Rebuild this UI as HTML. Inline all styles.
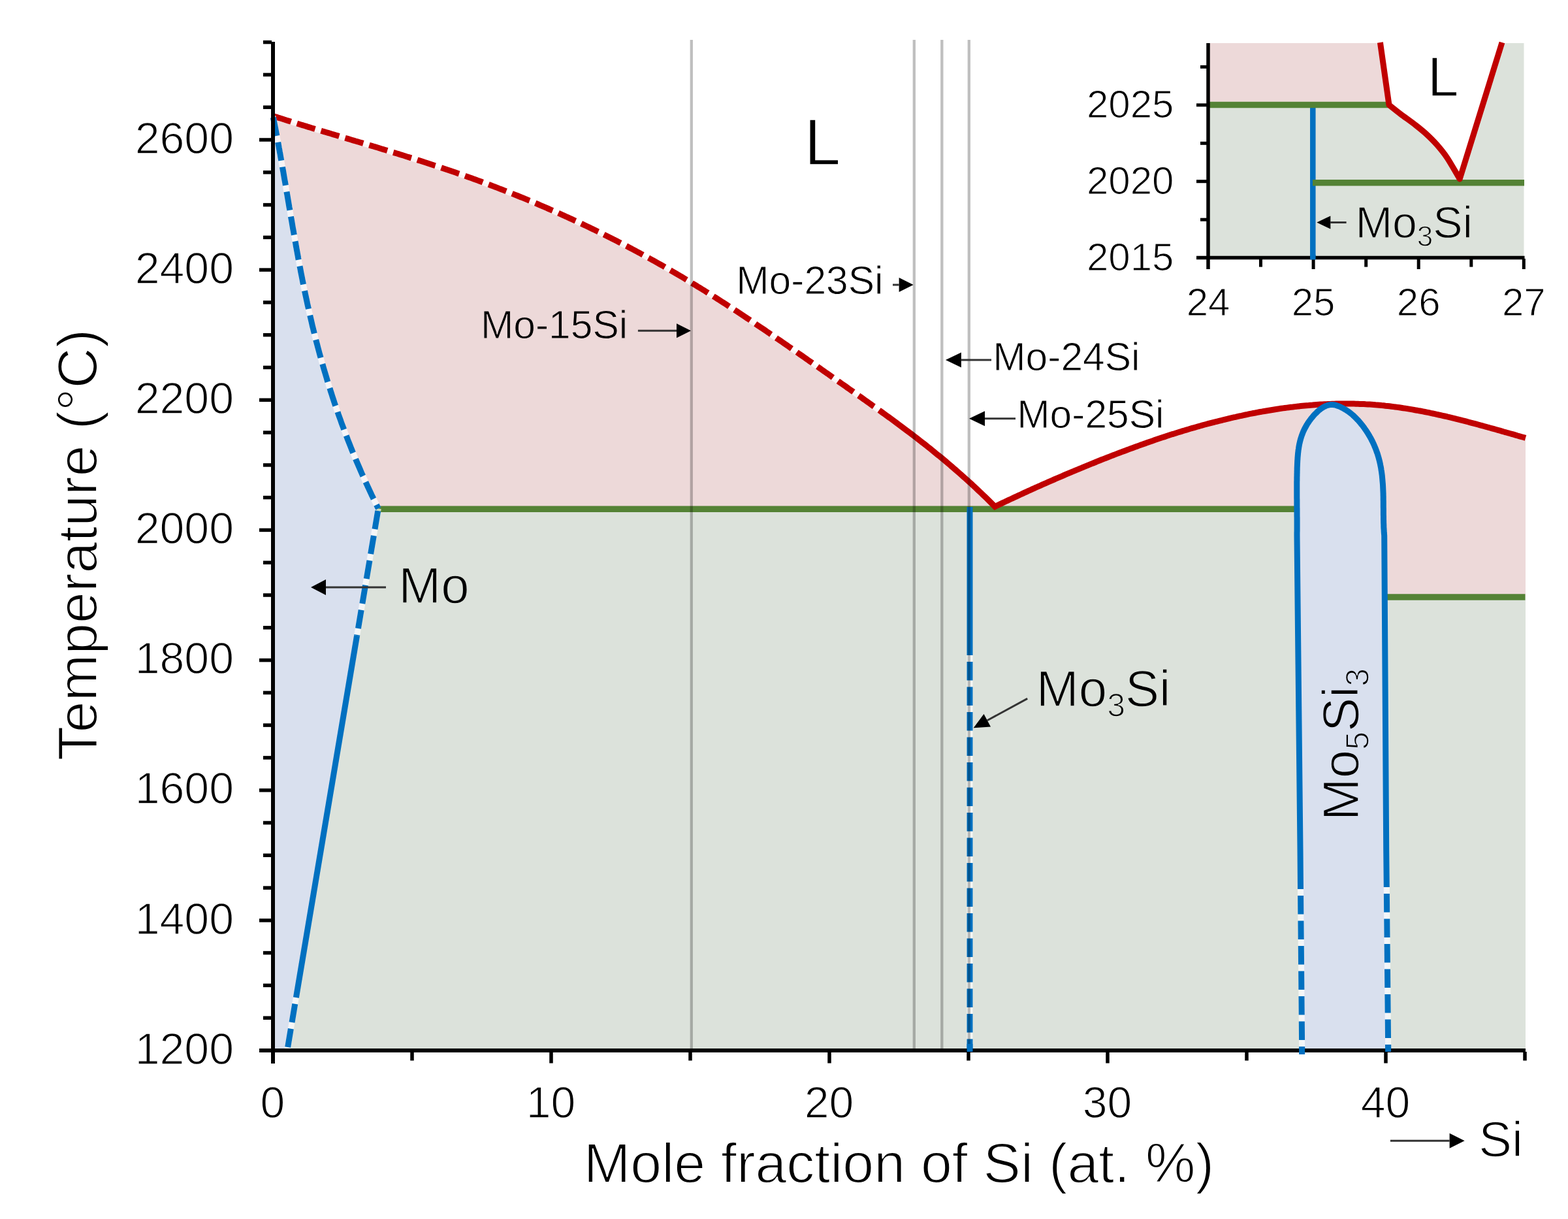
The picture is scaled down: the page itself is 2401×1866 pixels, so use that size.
<!DOCTYPE html>
<html><head><meta charset="utf-8"><title>Mo-Si phase diagram</title>
<style>html,body{margin:0;padding:0;background:#fff;overflow:hidden}svg{display:block}</style>
</head><body>
<svg xmlns="http://www.w3.org/2000/svg" width="2401" height="1866" viewBox="0 0 2401 1866">
<rect width="2401" height="1866" fill="#fff"/>
<path d="M418 177.5 L421 178.5 L424 179.4 L427 180.4 L430 181.3 L433.1 182.3 L436.1 183.2 L439.1 184.2 L442.1 185.1 L445.1 186 L448.1 187 L451.1 187.9 L454.1 188.8 L457.2 189.8 L460.2 190.7 L463.2 191.6 L466.2 192.5 L469.2 193.4 L472.2 194.4 L475.2 195.3 L478.2 196.2 L481.3 197.1 L484.3 198 L487.3 198.9 L490.3 199.8 L493.3 200.7 L496.3 201.6 L499.3 202.5 L502.3 203.4 L505.4 204.3 L508.4 205.2 L511.4 206.1 L514.4 207 L517.4 207.9 L520.4 208.8 L523.4 209.7 L526.4 210.6 L529.5 211.5 L532.5 212.4 L535.5 213.3 L538.5 214.2 L541.5 215.1 L544.5 216 L547.5 216.8 L550.5 217.7 L553.6 218.6 L556.6 219.5 L559.6 220.4 L562.6 221.3 L565.6 222.2 L568.6 223.1 L571.6 224 L574.6 224.9 L577.6 225.8 L580.7 226.8 L583.7 227.7 L586.7 228.6 L589.7 229.5 L592.7 230.4 L595.7 231.3 L598.7 232.2 L601.7 233.2 L604.8 234.1 L607.8 235 L610.8 235.9 L613.8 236.9 L616.8 237.8 L619.8 238.7 L622.8 239.7 L625.8 240.6 L628.9 241.6 L631.9 242.5 L634.9 243.4 L637.9 244.4 L640.9 245.4 L643.9 246.3 L646.9 247.3 L649.9 248.3 L653 249.2 L656 250.2 L659 251.2 L662 252.2 L665 253.2 L668 254.1 L671 255.1 L674 256.1 L677.1 257.2 L680.1 258.2 L683.1 259.2 L686.1 260.2 L689.1 261.2 L692.1 262.3 L695.1 263.3 L698.1 264.3 L701.2 265.4 L704.2 266.4 L707.2 267.5 L710.2 268.5 L713.2 269.6 L716.2 270.7 L719.2 271.8 L722.2 272.8 L725.3 273.9 L728.3 275 L731.3 276.1 L734.3 277.2 L737.3 278.3 L740.3 279.5 L743.3 280.6 L746.3 281.7 L749.3 282.8 L752.4 284 L755.4 285.1 L758.4 286.3 L761.4 287.4 L764.4 288.6 L767.4 289.7 L770.4 290.9 L773.4 292.1 L776.5 293.3 L779.5 294.5 L782.5 295.7 L785.5 296.9 L788.5 298.1 L791.5 299.3 L794.5 300.5 L797.5 301.7 L800.6 302.9 L803.6 304.2 L806.6 305.4 L809.6 306.7 L812.6 307.9 L815.6 309.2 L818.6 310.4 L821.6 311.7 L824.7 313 L827.7 314.3 L830.7 315.6 L833.7 316.9 L836.7 318.2 L839.7 319.5 L842.7 320.8 L845.7 322.1 L848.8 323.4 L851.8 324.8 L854.8 326.1 L857.8 327.5 L860.8 328.8 L863.8 330.2 L866.8 331.5 L869.8 332.9 L872.9 334.3 L875.9 335.7 L878.9 337.1 L881.9 338.4 L884.9 339.9 L887.9 341.3 L890.9 342.7 L893.9 344.1 L896.9 345.5 L900 347 L903 348.4 L906 349.9 L909 351.3 L912 352.8 L915 354.3 L918 355.7 L921 357.2 L924.1 358.7 L927.1 360.2 L930.1 361.7 L933.1 363.2 L936.1 364.7 L939.1 366.3 L942.1 367.8 L945.1 369.3 L948.2 370.9 L951.2 372.4 L954.2 374 L957.2 375.6 L960.2 377.1 L963.2 378.7 L966.2 380.3 L969.2 381.9 L972.3 383.5 L975.3 385.1 L978.3 386.7 L981.3 388.4 L984.3 390 L987.3 391.6 L990.3 393.3 L993.3 394.9 L996.4 396.6 L999.4 398.3 L1002.4 399.9 L1005.4 401.6 L1008.4 403.3 L1011.4 405 L1014.4 406.7 L1017.4 408.4 L1020.5 410.2 L1023.5 411.9 L1026.5 413.6 L1029.5 415.4 L1032.5 417.1 L1035.5 418.9 L1038.5 420.7 L1041.5 422.4 L1044.6 424.2 L1047.6 426 L1050.6 427.8 L1053.6 429.6 L1056.6 431.4 L1059.6 433.3 L1062.6 435.1 L1065.6 436.9 L1068.6 438.8 L1071.7 440.6 L1074.7 442.5 L1077.7 444.3 L1080.7 446.2 L1083.7 448.1 L1086.7 450 L1089.7 451.9 L1092.7 453.8 L1095.8 455.7 L1098.8 457.6 L1101.8 459.5 L1104.8 461.5 L1107.8 463.4 L1110.8 465.3 L1113.8 467.3 L1116.8 469.3 L1119.9 471.2 L1122.9 473.2 L1125.9 475.1 L1128.9 477.1 L1131.9 479.1 L1134.9 481.1 L1137.9 483.1 L1140.9 485.1 L1144 487.1 L1147 489.1 L1150 491.1 L1153 493.1 L1156 495.1 L1159 497.2 L1162 499.2 L1165 501.2 L1168.1 503.3 L1171.1 505.3 L1174.1 507.4 L1177.1 509.4 L1180.1 511.5 L1183.1 513.5 L1186.1 515.6 L1189.1 517.7 L1192.2 519.7 L1195.2 521.8 L1198.2 523.9 L1201.2 526 L1204.2 528 L1207.2 530.1 L1210.2 532.2 L1213.2 534.3 L1216.2 536.4 L1219.3 538.5 L1222.3 540.6 L1225.3 542.7 L1228.3 544.8 L1231.3 546.9 L1234.3 549 L1237.3 551.1 L1240.3 553.2 L1243.4 555.3 L1246.4 557.4 L1249.4 559.5 L1252.4 561.7 L1255.4 563.8 L1258.4 565.9 L1261.4 568 L1264.4 570.1 L1267.5 572.2 L1270.5 574.4 L1273.5 576.5 L1276.5 578.6 L1279.5 580.7 L1282.5 582.8 L1285.5 585 L1288.5 587.1 L1291.6 589.2 L1294.6 591.3 L1297.6 593.5 L1300.6 595.6 L1303.6 597.7 L1306.6 599.8 L1309.6 601.9 L1312.6 604.1 L1315.7 606.2 L1318.7 608.3 L1321.7 610.5 L1324.7 612.6 L1327.7 614.7 L1330.7 616.9 L1333.7 619 L1336.7 621.2 L1339.8 623.3 L1342.8 625.5 L1345.8 627.6 L1348.8 629.8 L1351.8 632 L1354.8 634.1 L1357.8 636.3 L1360.8 638.5 L1363.9 640.7 L1366.9 642.9 L1369.9 645.1 L1372.9 647.4 L1375.9 649.6 L1378.9 651.8 L1381.9 654.1 L1384.9 656.3 L1387.9 658.6 L1391 660.9 L1394 663.1 L1397 665.4 L1400 667.7 L1403 670.1 L1406 672.4 L1409 674.7 L1412 677.1 L1415.1 679.4 L1418.1 681.8 L1421.1 684.2 L1424.1 686.6 L1427.1 689 L1430.1 691.5 L1433.1 693.9 L1436.1 696.4 L1439.2 698.8 L1442.2 701.3 L1445.2 703.8 L1448.2 706.3 L1451.2 708.9 L1454.2 711.4 L1457.2 714 L1460.2 716.6 L1463.3 719.2 L1466.3 721.8 L1469.3 724.5 L1472.3 727.1 L1475.3 729.8 L1478.3 732.5 L1481.3 735.2 L1484.3 738 L1487.4 740.7 L1490.4 743.5 L1493.4 746.3 L1496.4 749.1 L1499.4 752 L1502.4 754.8 L1505.4 757.7 L1508.4 760.6 L1511.5 763.5 L1514.5 766.5 L1517.5 769.5 L1520.5 772.5 L1523.5 775.5 L1526.5 774 L1529.5 772.6 L1532.6 771.1 L1535.6 769.7 L1538.6 768.3 L1541.6 766.8 L1544.6 765.4 L1547.7 764 L1550.7 762.6 L1553.7 761.2 L1556.7 759.8 L1559.7 758.4 L1562.8 757 L1565.8 755.6 L1568.8 754.2 L1571.8 752.8 L1574.8 751.4 L1577.9 750.1 L1580.9 748.7 L1583.9 747.3 L1586.9 746 L1589.9 744.6 L1593 743.3 L1596 741.9 L1599 740.6 L1602 739.3 L1605.1 737.9 L1608.1 736.6 L1611.1 735.3 L1614.1 734 L1617.1 732.7 L1620.2 731.4 L1623.2 730.1 L1626.2 728.8 L1629.2 727.5 L1632.2 726.2 L1635.3 724.9 L1638.3 723.6 L1641.3 722.3 L1644.3 721.1 L1647.3 719.8 L1650.4 718.6 L1653.4 717.3 L1656.4 716.1 L1659.4 714.8 L1662.4 713.6 L1665.5 712.3 L1668.5 711.1 L1671.5 709.9 L1674.5 708.7 L1677.5 707.5 L1680.6 706.2 L1683.6 705 L1686.6 703.8 L1689.6 702.6 L1692.6 701.5 L1695.7 700.3 L1698.7 699.1 L1701.7 697.9 L1704.7 696.7 L1707.7 695.6 L1710.8 694.4 L1713.8 693.3 L1716.8 692.1 L1719.8 691 L1722.8 689.9 L1725.9 688.7 L1728.9 687.6 L1731.9 686.5 L1734.9 685.4 L1738 684.3 L1741 683.2 L1744 682.1 L1747 681 L1750 679.9 L1753.1 678.9 L1756.1 677.8 L1759.1 676.7 L1762.1 675.7 L1765.1 674.7 L1768.2 673.6 L1771.2 672.6 L1774.2 671.6 L1777.2 670.6 L1780.2 669.6 L1783.3 668.6 L1786.3 667.6 L1789.3 666.6 L1792.3 665.6 L1795.3 664.6 L1798.4 663.7 L1801.4 662.7 L1804.4 661.8 L1807.4 660.9 L1810.4 659.9 L1813.5 659 L1816.5 658.1 L1819.5 657.2 L1822.5 656.3 L1825.5 655.4 L1828.6 654.6 L1831.6 653.7 L1834.6 652.8 L1837.6 652 L1840.6 651.2 L1843.7 650.3 L1846.7 649.5 L1849.7 648.7 L1852.7 647.9 L1855.7 647.1 L1858.8 646.3 L1861.8 645.5 L1864.8 644.8 L1867.8 644 L1870.9 643.3 L1873.9 642.5 L1876.9 641.8 L1879.9 641.1 L1882.9 640.3 L1886 639.6 L1889 638.9 L1892 638.3 L1895 637.6 L1898 636.9 L1901.1 636.3 L1904.1 635.6 L1907.1 635 L1910.1 634.4 L1913.1 633.7 L1916.2 633.1 L1919.2 632.5 L1922.2 632 L1925.2 631.4 L1928.2 630.8 L1931.3 630.3 L1934.3 629.7 L1937.3 629.2 L1940.3 628.7 L1943.3 628.2 L1946.4 627.7 L1949.4 627.2 L1952.4 626.7 L1955.4 626.2 L1958.4 625.8 L1961.5 625.3 L1964.5 624.9 L1967.5 624.5 L1970.5 624.1 L1973.5 623.7 L1976.6 623.3 L1979.6 623 L1982.6 622.6 L1985.6 622.3 L1988.6 621.9 L1991.7 621.6 L1994.7 621.3 L1997.7 621 L2000.7 620.7 L2003.8 620.5 L2006.8 620.2 L2009.8 620 L2012.8 619.7 L2015.8 619.5 L2018.9 619.3 L2021.9 619.1 L2024.9 619 L2027.9 618.8 L2030.9 618.7 L2034 618.5 L2037 618.4 L2040 618.3 L2043 618.2 L2046 618.1 L2049.1 618.1 L2052.1 618 L2055.1 618 L2058.1 618 L2061.1 618 L2064.2 618 L2067.2 618 L2070.2 618.1 L2073.2 618.1 L2076.2 618.2 L2079.3 618.3 L2082.3 618.4 L2085.3 618.5 L2088.3 618.6 L2091.3 618.8 L2094.4 618.9 L2097.4 619.1 L2100.4 619.3 L2103.4 619.5 L2106.4 619.8 L2109.5 620 L2112.5 620.3 L2115.5 620.6 L2118.5 620.8 L2121.5 621.2 L2124.6 621.5 L2127.6 621.8 L2130.6 622.2 L2133.6 622.6 L2136.7 623 L2139.7 623.4 L2142.7 623.8 L2145.7 624.2 L2148.7 624.7 L2151.8 625.1 L2154.8 625.6 L2157.8 626.1 L2160.8 626.6 L2163.8 627.1 L2166.9 627.7 L2169.9 628.2 L2172.9 628.8 L2175.9 629.3 L2178.9 629.9 L2182 630.5 L2185 631.1 L2188 631.7 L2191 632.4 L2194 633 L2197.1 633.6 L2200.1 634.3 L2203.1 635 L2206.1 635.6 L2209.1 636.3 L2212.2 637 L2215.2 637.7 L2218.2 638.5 L2221.2 639.2 L2224.2 639.9 L2227.3 640.6 L2230.3 641.4 L2233.3 642.1 L2236.3 642.9 L2239.3 643.7 L2242.4 644.4 L2245.4 645.2 L2248.4 646 L2251.4 646.8 L2254.4 647.6 L2257.5 648.4 L2260.5 649.2 L2263.5 650 L2266.5 650.9 L2269.6 651.7 L2272.6 652.5 L2275.6 653.3 L2278.6 654.2 L2281.6 655 L2284.7 655.9 L2287.7 656.7 L2290.7 657.5 L2293.7 658.4 L2296.7 659.2 L2299.8 660.1 L2302.8 661 L2305.8 661.8 L2308.8 662.7 L2311.8 663.5 L2314.9 664.4 L2317.9 665.2 L2320.9 666.1 L2323.9 667 L2326.9 667.8 L2330 668.7 L2333 669.5 L2336 670.4 L2336 1608 L418 1608 Z" fill="#EDD9D9"/>
<path d="M418 779 L2060 779 L2060 914 L2336 914 L2336 1608 L418 1608 Z" fill="#DCE2DB"/>
<path d="M418 178 L418.6 181 L419.2 184 L419.8 187.1 L420.4 190.1 L421 193.1 L421.6 196.1 L422.2 199.1 L422.8 202.1 L423.3 205.2 L423.9 208.2 L424.5 211.2 L425 214.2 L425.6 217.2 L426.1 220.2 L426.7 223.3 L427.2 226.3 L427.8 229.3 L428.3 232.3 L428.9 235.3 L429.4 238.4 L429.9 241.4 L430.5 244.4 L431 247.4 L431.5 250.4 L432.1 253.4 L432.6 256.5 L433.1 259.5 L433.7 262.5 L434.2 265.5 L434.7 268.5 L435.2 271.5 L435.7 274.6 L436.3 277.6 L436.8 280.6 L437.3 283.6 L437.8 286.6 L438.3 289.7 L438.8 292.7 L439.3 295.7 L439.9 298.7 L440.4 301.7 L440.9 304.7 L441.4 307.8 L441.9 310.8 L442.4 313.8 L442.9 316.8 L443.5 319.8 L444 322.8 L444.5 325.9 L445 328.9 L445.5 331.9 L446 334.9 L446.6 337.9 L447.1 340.9 L447.6 344 L448.1 347 L448.6 350 L449.2 353 L449.7 356 L450.2 359.1 L450.8 362.1 L451.3 365.1 L451.8 368.1 L452.4 371.1 L452.9 374.1 L453.4 377.2 L454 380.2 L454.5 383.2 L455.1 386.2 L455.6 389.2 L456.2 392.2 L456.7 395.3 L457.3 398.3 L457.9 401.3 L458.4 404.3 L459 407.3 L459.6 410.4 L460.2 413.4 L460.7 416.4 L461.3 419.4 L461.9 422.4 L462.5 425.4 L463.1 428.5 L463.7 431.5 L464.3 434.5 L464.9 437.5 L465.5 440.5 L466.2 443.5 L466.8 446.6 L467.4 449.6 L468 452.6 L468.7 455.6 L469.3 458.6 L470 461.7 L470.6 464.7 L471.3 467.7 L472 470.7 L472.6 473.7 L473.3 476.7 L474 479.8 L474.7 482.8 L475.4 485.8 L476.1 488.8 L476.8 491.8 L477.5 494.8 L478.2 497.9 L478.9 500.9 L479.7 503.9 L480.4 506.9 L481.2 509.9 L481.9 513 L482.7 516 L483.4 519 L484.2 522 L485 525 L485.8 528 L486.6 531.1 L487.4 534.1 L488.2 537.1 L489 540.1 L489.8 543.1 L490.7 546.1 L491.5 549.2 L492.3 552.2 L493.2 555.2 L494.1 558.2 L494.9 561.2 L495.8 564.3 L496.7 567.3 L497.6 570.3 L498.5 573.3 L499.4 576.3 L500.3 579.3 L501.2 582.4 L502.1 585.4 L503.1 588.4 L504 591.4 L505 594.4 L505.9 597.4 L506.9 600.5 L507.9 603.5 L508.8 606.5 L509.8 609.5 L510.8 612.5 L511.8 615.6 L512.8 618.6 L513.9 621.6 L514.9 624.6 L515.9 627.6 L517 630.6 L518 633.7 L519.1 636.7 L520.2 639.7 L521.3 642.7 L522.3 645.7 L523.4 648.7 L524.6 651.8 L525.7 654.8 L526.8 657.8 L527.9 660.8 L529.1 663.8 L530.2 666.8 L531.4 669.9 L532.5 672.9 L533.7 675.9 L534.9 678.9 L536.1 681.9 L537.3 685 L538.5 688 L539.7 691 L541 694 L542.2 697 L543.5 700 L544.7 703.1 L546 706.1 L547.3 709.1 L548.6 712.1 L549.9 715.1 L551.2 718.1 L552.5 721.2 L553.8 724.2 L555.1 727.2 L556.5 730.2 L557.8 733.2 L559.2 736.3 L560.6 739.3 L562 742.3 L563.3 745.3 L564.8 748.3 L566.2 751.3 L567.6 754.4 L569 757.4 L570.5 760.4 L571.9 763.4 L573.4 766.4 L574.9 769.4 L576.3 772.5 L577.8 775.5 L579.3 778.5 L439.8 1608 L418 1608 Z" fill="#D9E0EE"/>
<path d="M1993.7 1608 L1992.3 1364 L1991 1300 L1986 820 L1986 817.7 L1986 815.4 L1986.1 813.1 L1986.1 810.8 L1986.1 808.5 L1986.1 806.2 L1986.1 803.9 L1986.1 801.6 L1986.1 799.3 L1986.1 797 L1986.1 794.7 L1986.1 792.4 L1986 790.1 L1986 787.8 L1986 785.5 L1986 783.2 L1986 780.9 L1986 778.7 L1985.9 776.4 L1985.9 774.1 L1985.9 771.8 L1985.9 769.5 L1985.9 767.2 L1985.9 764.9 L1985.8 762.6 L1985.8 760.4 L1985.8 758.1 L1985.8 755.8 L1985.8 753.5 L1985.8 751.2 L1985.8 748.9 L1985.8 746.6 L1985.8 744.3 L1985.8 742 L1985.8 739.7 L1985.8 737.5 L1985.9 735.2 L1985.9 732.9 L1985.9 730.6 L1986 728.3 L1986 726 L1986.1 723.7 L1986.1 721.4 L1986.2 719.1 L1986.2 716.8 L1986.3 714.5 L1986.4 712.1 L1986.5 709.8 L1986.6 707.5 L1986.7 705.2 L1986.9 702.9 L1987 700.6 L1987.2 698.3 L1987.4 696 L1987.6 693.7 L1987.9 691.4 L1988.1 689.2 L1988.5 686.9 L1988.8 684.6 L1989.2 682.4 L1989.6 680.1 L1990.1 677.9 L1990.6 675.7 L1991.2 673.5 L1991.8 671.3 L1992.5 669.2 L1993.2 667 L1994 664.9 L1994.8 662.7 L1995.7 660.6 L1996.6 658.6 L1997.6 656.5 L1998.7 654.5 L1999.8 652.5 L2000.9 650.5 L2002.1 648.5 L2003.4 646.6 L2004.7 644.7 L2006.1 642.8 L2007.5 640.9 L2009 639.1 L2010.5 637.3 L2012 635.6 L2013.6 633.8 L2015.3 632.2 L2017 630.5 L2018.7 628.9 L2020.5 627.4 L2022.4 625.9 L2024.3 624.6 L2026.2 623.4 L2028.2 622.3 L2030.2 621.4 L2032.2 620.6 L2034.3 620 L2036.4 619.6 L2038.5 619.4 L2040.7 619.5 L2042.9 619.7 L2045.1 620.2 L2047.4 620.9 L2049.6 621.7 L2051.8 622.6 L2054 623.7 L2056.2 624.8 L2058.3 625.9 L2060.3 627.2 L2062.3 628.4 L2064.3 629.7 L2066.2 631.1 L2068 632.5 L2069.7 633.9 L2071.5 635.4 L2073.1 636.9 L2074.8 638.5 L2076.4 640.1 L2077.9 641.7 L2079.5 643.3 L2081 645 L2082.5 646.7 L2083.9 648.5 L2085.4 650.3 L2086.8 652.1 L2088.2 653.9 L2089.5 655.8 L2090.8 657.6 L2092.1 659.5 L2093.4 661.5 L2094.6 663.4 L2095.8 665.4 L2097 667.4 L2098.1 669.4 L2099.3 671.4 L2100.3 673.5 L2101.4 675.5 L2102.4 677.6 L2103.4 679.7 L2104.3 681.8 L2105.2 684 L2106.1 686.1 L2106.9 688.2 L2107.7 690.4 L2108.5 692.6 L2109.3 694.7 L2109.9 696.9 L2110.6 699.1 L2111.2 701.3 L2111.8 703.5 L2112.4 705.7 L2112.9 708 L2113.4 710.2 L2113.8 712.4 L2114.3 714.7 L2114.7 716.9 L2115 719.2 L2115.4 721.4 L2115.7 723.7 L2116 725.9 L2116.3 728.2 L2116.5 730.5 L2116.7 732.7 L2116.9 735 L2117.1 737.3 L2117.3 739.6 L2117.5 741.9 L2117.6 744.2 L2117.7 746.5 L2117.8 748.8 L2117.9 751.1 L2118 753.4 L2118.1 755.7 L2118.1 758 L2118.2 760.3 L2118.2 762.6 L2118.2 764.9 L2118.3 767.2 L2118.3 769.5 L2118.3 771.8 L2118.3 774.1 L2118.3 776.4 L2118.4 778.8 L2118.4 781.1 L2118.4 783.4 L2118.4 785.7 L2118.4 788 L2118.5 790.3 L2118.5 792.6 L2118.5 794.9 L2118.6 797.2 L2118.6 799.5 L2118.7 801.8 L2118.8 804 L2118.8 806.3 L2118.9 808.6 L2119.1 810.9 L2119.2 813.2 L2119.3 815.4 L2119.5 817.7 L2119.7 819.9 L2122.7 1300 L2124.1 1368 L2125.7 1608 Z" fill="#D9E0EE"/>
<g stroke="#548235" stroke-width="9.5" fill="none">
<path d="M575 779.2 H1984"/>
<path d="M2121 914 H2335.5"/>
</g>
<g fill="none" stroke-width="9" stroke-linejoin="miter" stroke-miterlimit="10">
<path d="M418 177.5 L421 178.5 L424 179.4 L427 180.4 L430 181.3 L433.1 182.3 L436.1 183.2 L439.1 184.2 L442.1 185.1 L445.1 186 L448.1 187 L451.1 187.9 L454.1 188.8 L457.2 189.8 L460.2 190.7 L463.2 191.6 L466.2 192.5 L469.2 193.4 L472.2 194.4 L475.2 195.3 L478.2 196.2 L481.3 197.1 L484.3 198 L487.3 198.9 L490.3 199.8 L493.3 200.7 L496.3 201.6 L499.3 202.5 L502.3 203.4 L505.4 204.3 L508.4 205.2 L511.4 206.1 L514.4 207 L517.4 207.9 L520.4 208.8 L523.4 209.7 L526.4 210.6 L529.5 211.5 L532.5 212.4 L535.5 213.3 L538.5 214.2 L541.5 215.1 L544.5 216 L547.5 216.8 L550.5 217.7 L553.6 218.6 L556.6 219.5 L559.6 220.4 L562.6 221.3 L565.6 222.2 L568.6 223.1 L571.6 224 L574.6 224.9 L577.6 225.8 L580.7 226.8 L583.7 227.7 L586.7 228.6 L589.7 229.5 L592.7 230.4 L595.7 231.3 L598.7 232.2 L601.7 233.2 L604.8 234.1 L607.8 235 L610.8 235.9 L613.8 236.9 L616.8 237.8 L619.8 238.7 L622.8 239.7 L625.8 240.6 L628.9 241.6 L631.9 242.5 L634.9 243.4 L637.9 244.4 L640.9 245.4 L643.9 246.3 L646.9 247.3 L649.9 248.3 L653 249.2 L656 250.2 L659 251.2 L662 252.2 L665 253.2 L668 254.1 L671 255.1 L674 256.1 L677.1 257.2 L680.1 258.2 L683.1 259.2 L686.1 260.2 L689.1 261.2 L692.1 262.3 L695.1 263.3 L698.1 264.3 L701.2 265.4 L704.2 266.4 L707.2 267.5 L710.2 268.5 L713.2 269.6 L716.2 270.7 L719.2 271.8 L722.2 272.8 L725.3 273.9 L728.3 275 L731.3 276.1 L734.3 277.2 L737.3 278.3 L740.3 279.5 L743.3 280.6 L746.3 281.7 L749.3 282.8 L752.4 284 L755.4 285.1 L758.4 286.3 L761.4 287.4 L764.4 288.6 L767.4 289.7 L770.4 290.9 L773.4 292.1 L776.5 293.3 L779.5 294.5 L782.5 295.7 L785.5 296.9 L788.5 298.1 L791.5 299.3 L794.5 300.5 L797.5 301.7 L800.6 302.9 L803.6 304.2 L806.6 305.4 L809.6 306.7 L812.6 307.9 L815.6 309.2 L818.6 310.4 L821.6 311.7 L824.7 313 L827.7 314.3 L830.7 315.6 L833.7 316.9 L836.7 318.2 L839.7 319.5 L842.7 320.8 L845.7 322.1 L848.8 323.4 L851.8 324.8 L854.8 326.1 L857.8 327.5 L860.8 328.8 L863.8 330.2 L866.8 331.5 L869.8 332.9 L872.9 334.3 L875.9 335.7 L878.9 337.1 L881.9 338.4 L884.9 339.9 L887.9 341.3 L890.9 342.7 L893.9 344.1 L896.9 345.5 L900 347 L903 348.4 L906 349.9 L909 351.3 L912 352.8 L915 354.3 L918 355.7 L921 357.2 L924.1 358.7 L927.1 360.2 L930.1 361.7 L933.1 363.2 L936.1 364.7 L939.1 366.3 L942.1 367.8 L945.1 369.3 L948.2 370.9 L951.2 372.4 L954.2 374 L957.2 375.6 L960.2 377.1 L963.2 378.7 L966.2 380.3 L969.2 381.9 L972.3 383.5 L975.3 385.1 L978.3 386.7 L981.3 388.4 L984.3 390 L987.3 391.6 L990.3 393.3 L993.3 394.9 L996.4 396.6 L999.4 398.3 L1002.4 399.9 L1005.4 401.6 L1008.4 403.3 L1011.4 405 L1014.4 406.7 L1017.4 408.4 L1020.5 410.2 L1023.5 411.9 L1026.5 413.6 L1029.5 415.4 L1032.5 417.1 L1035.5 418.9 L1038.5 420.7 L1041.5 422.4 L1044.6 424.2 L1047.6 426 L1050.6 427.8 L1053.6 429.6 L1056.6 431.4 L1059.6 433.3 L1062.6 435.1 L1065.6 436.9 L1068.6 438.8 L1071.7 440.6 L1074.7 442.5 L1077.7 444.3 L1080.7 446.2 L1083.7 448.1 L1086.7 450 L1089.7 451.9 L1092.7 453.8 L1095.8 455.7 L1098.8 457.6 L1101.8 459.5 L1104.8 461.5 L1107.8 463.4 L1110.8 465.3 L1113.8 467.3 L1116.8 469.3 L1119.9 471.2 L1122.9 473.2 L1125.9 475.1 L1128.9 477.1 L1131.9 479.1 L1134.9 481.1 L1137.9 483.1 L1140.9 485.1 L1144 487.1 L1147 489.1 L1150 491.1 L1153 493.1 L1156 495.1 L1159 497.2 L1162 499.2 L1165 501.2 L1168.1 503.3 L1171.1 505.3 L1174.1 507.4 L1177.1 509.4 L1180.1 511.5 L1183.1 513.5 L1186.1 515.6 L1189.1 517.7 L1192.2 519.7 L1195.2 521.8 L1198.2 523.9 L1201.2 526 L1204.2 528 L1207.2 530.1 L1210.2 532.2 L1213.2 534.3 L1216.2 536.4 L1219.3 538.5 L1222.3 540.6 L1225.3 542.7 L1228.3 544.8 L1231.3 546.9 L1234.3 549 L1237.3 551.1 L1240.3 553.2 L1243.4 555.3 L1246.4 557.4 L1249.4 559.5 L1252.4 561.7 L1255.4 563.8 L1258.4 565.9 L1261.4 568 L1264.4 570.1 L1267.5 572.2 L1270.5 574.4 L1273.5 576.5 L1276.5 578.6 L1279.5 580.7 L1282.5 582.8 L1285.5 585 L1288.5 587.1 L1291.6 589.2 L1294.6 591.3 L1297.6 593.5 L1300.6 595.6 L1303.6 597.7 L1306.6 599.8 L1309.6 601.9 L1312.6 604.1 L1315.7 606.2 L1318.7 608.3 L1321.7 610.5 L1324.7 612.6 L1327.7 614.7 L1330.7 616.9 L1333.7 619 L1336.7 621.2 L1339.8 623.3 L1342.8 625.5 L1345.8 627.6 L1346.5 628.2" stroke="#fff" stroke-opacity="0.7"/>
<path d="M418 177.5 L421 178.5 L424 179.4 L427 180.4 L430 181.3 L433.1 182.3 L436.1 183.2 L439.1 184.2 L442.1 185.1 L445.1 186 L448.1 187 L451.1 187.9 L454.1 188.8 L457.2 189.8 L460.2 190.7 L463.2 191.6 L466.2 192.5 L469.2 193.4 L472.2 194.4 L475.2 195.3 L478.2 196.2 L481.3 197.1 L484.3 198 L487.3 198.9 L490.3 199.8 L493.3 200.7 L496.3 201.6 L499.3 202.5 L502.3 203.4 L505.4 204.3 L508.4 205.2 L511.4 206.1 L514.4 207 L517.4 207.9 L520.4 208.8 L523.4 209.7 L526.4 210.6 L529.5 211.5 L532.5 212.4 L535.5 213.3 L538.5 214.2 L541.5 215.1 L544.5 216 L547.5 216.8 L550.5 217.7 L553.6 218.6 L556.6 219.5 L559.6 220.4 L562.6 221.3 L565.6 222.2 L568.6 223.1 L571.6 224 L574.6 224.9 L577.6 225.8 L580.7 226.8 L583.7 227.7 L586.7 228.6 L589.7 229.5 L592.7 230.4 L595.7 231.3 L598.7 232.2 L601.7 233.2 L604.8 234.1 L607.8 235 L610.8 235.9 L613.8 236.9 L616.8 237.8 L619.8 238.7 L622.8 239.7 L625.8 240.6 L628.9 241.6 L631.9 242.5 L634.9 243.4 L637.9 244.4 L640.9 245.4 L643.9 246.3 L646.9 247.3 L649.9 248.3 L653 249.2 L656 250.2 L659 251.2 L662 252.2 L665 253.2 L668 254.1 L671 255.1 L674 256.1 L677.1 257.2 L680.1 258.2 L683.1 259.2 L686.1 260.2 L689.1 261.2 L692.1 262.3 L695.1 263.3 L698.1 264.3 L701.2 265.4 L704.2 266.4 L707.2 267.5 L710.2 268.5 L713.2 269.6 L716.2 270.7 L719.2 271.8 L722.2 272.8 L725.3 273.9 L728.3 275 L731.3 276.1 L734.3 277.2 L737.3 278.3 L740.3 279.5 L743.3 280.6 L746.3 281.7 L749.3 282.8 L752.4 284 L755.4 285.1 L758.4 286.3 L761.4 287.4 L764.4 288.6 L767.4 289.7 L770.4 290.9 L773.4 292.1 L776.5 293.3 L779.5 294.5 L782.5 295.7 L785.5 296.9 L788.5 298.1 L791.5 299.3 L794.5 300.5 L797.5 301.7 L800.6 302.9 L803.6 304.2 L806.6 305.4 L809.6 306.7 L812.6 307.9 L815.6 309.2 L818.6 310.4 L821.6 311.7 L824.7 313 L827.7 314.3 L830.7 315.6 L833.7 316.9 L836.7 318.2 L839.7 319.5 L842.7 320.8 L845.7 322.1 L848.8 323.4 L851.8 324.8 L854.8 326.1 L857.8 327.5 L860.8 328.8 L863.8 330.2 L866.8 331.5 L869.8 332.9 L872.9 334.3 L875.9 335.7 L878.9 337.1 L881.9 338.4 L884.9 339.9 L887.9 341.3 L890.9 342.7 L893.9 344.1 L896.9 345.5 L900 347 L903 348.4 L906 349.9 L909 351.3 L912 352.8 L915 354.3 L918 355.7 L921 357.2 L924.1 358.7 L927.1 360.2 L930.1 361.7 L933.1 363.2 L936.1 364.7 L939.1 366.3 L942.1 367.8 L945.1 369.3 L948.2 370.9 L951.2 372.4 L954.2 374 L957.2 375.6 L960.2 377.1 L963.2 378.7 L966.2 380.3 L969.2 381.9 L972.3 383.5 L975.3 385.1 L978.3 386.7 L981.3 388.4 L984.3 390 L987.3 391.6 L990.3 393.3 L993.3 394.9 L996.4 396.6 L999.4 398.3 L1002.4 399.9 L1005.4 401.6 L1008.4 403.3 L1011.4 405 L1014.4 406.7 L1017.4 408.4 L1020.5 410.2 L1023.5 411.9 L1026.5 413.6 L1029.5 415.4 L1032.5 417.1 L1035.5 418.9 L1038.5 420.7 L1041.5 422.4 L1044.6 424.2 L1047.6 426 L1050.6 427.8 L1053.6 429.6 L1056.6 431.4 L1059.6 433.3 L1062.6 435.1 L1065.6 436.9 L1068.6 438.8 L1071.7 440.6 L1074.7 442.5 L1077.7 444.3 L1080.7 446.2 L1083.7 448.1 L1086.7 450 L1089.7 451.9 L1092.7 453.8 L1095.8 455.7 L1098.8 457.6 L1101.8 459.5 L1104.8 461.5 L1107.8 463.4 L1110.8 465.3 L1113.8 467.3 L1116.8 469.3 L1119.9 471.2 L1122.9 473.2 L1125.9 475.1 L1128.9 477.1 L1131.9 479.1 L1134.9 481.1 L1137.9 483.1 L1140.9 485.1 L1144 487.1 L1147 489.1 L1150 491.1 L1153 493.1 L1156 495.1 L1159 497.2 L1162 499.2 L1165 501.2 L1168.1 503.3 L1171.1 505.3 L1174.1 507.4 L1177.1 509.4 L1180.1 511.5 L1183.1 513.5 L1186.1 515.6 L1189.1 517.7 L1192.2 519.7 L1195.2 521.8 L1198.2 523.9 L1201.2 526 L1204.2 528 L1207.2 530.1 L1210.2 532.2 L1213.2 534.3 L1216.2 536.4 L1219.3 538.5 L1222.3 540.6 L1225.3 542.7 L1228.3 544.8 L1231.3 546.9 L1234.3 549 L1237.3 551.1 L1240.3 553.2 L1243.4 555.3 L1246.4 557.4 L1249.4 559.5 L1252.4 561.7 L1255.4 563.8 L1258.4 565.9 L1261.4 568 L1264.4 570.1 L1267.5 572.2 L1270.5 574.4 L1273.5 576.5 L1276.5 578.6 L1279.5 580.7 L1282.5 582.8 L1285.5 585 L1288.5 587.1 L1291.6 589.2 L1294.6 591.3 L1297.6 593.5 L1300.6 595.6 L1303.6 597.7 L1306.6 599.8 L1309.6 601.9 L1312.6 604.1 L1315.7 606.2 L1318.7 608.3 L1321.7 610.5 L1324.7 612.6 L1327.7 614.7 L1330.7 616.9 L1333.7 619 L1336.7 621.2 L1338.4 622.3" stroke="#C00000" stroke-dasharray="29 9.5"/>
<path d="M1346.1 627.9 L1348.8 629.8 L1351.8 632 L1354.8 634.1 L1357.8 636.3 L1360.8 638.5 L1363.9 640.7 L1366.9 642.9 L1369.9 645.1 L1372.9 647.4 L1375.9 649.6 L1378.9 651.8 L1381.9 654.1 L1384.9 656.3 L1387.9 658.6 L1391 660.9 L1394 663.1 L1397 665.4 L1400 667.7 L1403 670.1 L1406 672.4 L1409 674.7 L1412 677.1 L1415.1 679.4 L1418.1 681.8 L1421.1 684.2 L1424.1 686.6 L1427.1 689 L1430.1 691.5 L1433.1 693.9 L1436.1 696.4 L1439.2 698.8 L1442.2 701.3 L1445.2 703.8 L1448.2 706.3 L1451.2 708.9 L1454.2 711.4 L1457.2 714 L1460.2 716.6 L1463.3 719.2 L1466.3 721.8 L1469.3 724.5 L1472.3 727.1 L1475.3 729.8 L1478.3 732.5 L1481.3 735.2 L1484.3 738 L1487.4 740.7 L1490.4 743.5 L1493.4 746.3 L1496.4 749.1 L1499.4 752 L1502.4 754.8 L1505.4 757.7 L1508.4 760.6 L1511.5 763.5 L1514.5 766.5 L1517.5 769.5 L1520.5 772.5 L1523.5 775.5 L1526.5 774 L1529.5 772.6 L1532.6 771.1 L1535.6 769.7 L1538.6 768.3 L1541.6 766.8 L1544.6 765.4 L1547.7 764 L1550.7 762.6 L1553.7 761.2 L1556.7 759.8 L1559.7 758.4 L1562.8 757 L1565.8 755.6 L1568.8 754.2 L1571.8 752.8 L1574.8 751.4 L1577.9 750.1 L1580.9 748.7 L1583.9 747.3 L1586.9 746 L1589.9 744.6 L1593 743.3 L1596 741.9 L1599 740.6 L1602 739.3 L1605.1 737.9 L1608.1 736.6 L1611.1 735.3 L1614.1 734 L1617.1 732.7 L1620.2 731.4 L1623.2 730.1 L1626.2 728.8 L1629.2 727.5 L1632.2 726.2 L1635.3 724.9 L1638.3 723.6 L1641.3 722.3 L1644.3 721.1 L1647.3 719.8 L1650.4 718.6 L1653.4 717.3 L1656.4 716.1 L1659.4 714.8 L1662.4 713.6 L1665.5 712.3 L1668.5 711.1 L1671.5 709.9 L1674.5 708.7 L1677.5 707.5 L1680.6 706.2 L1683.6 705 L1686.6 703.8 L1689.6 702.6 L1692.6 701.5 L1695.7 700.3 L1698.7 699.1 L1701.7 697.9 L1704.7 696.7 L1707.7 695.6 L1710.8 694.4 L1713.8 693.3 L1716.8 692.1 L1719.8 691 L1722.8 689.9 L1725.9 688.7 L1728.9 687.6 L1731.9 686.5 L1734.9 685.4 L1738 684.3 L1741 683.2 L1744 682.1 L1747 681 L1750 679.9 L1753.1 678.9 L1756.1 677.8 L1759.1 676.7 L1762.1 675.7 L1765.1 674.7 L1768.2 673.6 L1771.2 672.6 L1774.2 671.6 L1777.2 670.6 L1780.2 669.6 L1783.3 668.6 L1786.3 667.6 L1789.3 666.6 L1792.3 665.6 L1795.3 664.6 L1798.4 663.7 L1801.4 662.7 L1804.4 661.8 L1807.4 660.9 L1810.4 659.9 L1813.5 659 L1816.5 658.1 L1819.5 657.2 L1822.5 656.3 L1825.5 655.4 L1828.6 654.6 L1831.6 653.7 L1834.6 652.8 L1837.6 652 L1840.6 651.2 L1843.7 650.3 L1846.7 649.5 L1849.7 648.7 L1852.7 647.9 L1855.7 647.1 L1858.8 646.3 L1861.8 645.5 L1864.8 644.8 L1867.8 644 L1870.9 643.3 L1873.9 642.5 L1876.9 641.8 L1879.9 641.1 L1882.9 640.3 L1886 639.6 L1889 638.9 L1892 638.3 L1895 637.6 L1898 636.9 L1901.1 636.3 L1904.1 635.6 L1907.1 635 L1910.1 634.4 L1913.1 633.7 L1916.2 633.1 L1919.2 632.5 L1922.2 632 L1925.2 631.4 L1928.2 630.8 L1931.3 630.3 L1934.3 629.7 L1937.3 629.2 L1940.3 628.7 L1943.3 628.2 L1946.4 627.7 L1949.4 627.2 L1952.4 626.7 L1955.4 626.2 L1958.4 625.8 L1961.5 625.3 L1964.5 624.9 L1967.5 624.5 L1970.5 624.1 L1973.5 623.7 L1976.6 623.3 L1979.6 623 L1982.6 622.6 L1985.6 622.3 L1988.6 621.9 L1991.7 621.6 L1994.7 621.3 L1997.7 621 L2000.7 620.7 L2003.8 620.5 L2006.8 620.2 L2009.8 620 L2012.8 619.7 L2015.8 619.5 L2018.9 619.3 L2021.9 619.1 L2024.9 619 L2027.9 618.8 L2030.9 618.7 L2034 618.5 L2037 618.4 L2040 618.3 L2043 618.2 L2046 618.1 L2049.1 618.1 L2052.1 618 L2055.1 618 L2058.1 618 L2061.1 618 L2064.2 618 L2067.2 618 L2070.2 618.1 L2073.2 618.1 L2076.2 618.2 L2079.3 618.3 L2082.3 618.4 L2085.3 618.5 L2088.3 618.6 L2091.3 618.8 L2094.4 618.9 L2097.4 619.1 L2100.4 619.3 L2103.4 619.5 L2106.4 619.8 L2109.5 620 L2112.5 620.3 L2115.5 620.6 L2118.5 620.8 L2121.5 621.2 L2124.6 621.5 L2127.6 621.8 L2130.6 622.2 L2133.6 622.6 L2136.7 623 L2139.7 623.4 L2142.7 623.8 L2145.7 624.2 L2148.7 624.7 L2151.8 625.1 L2154.8 625.6 L2157.8 626.1 L2160.8 626.6 L2163.8 627.1 L2166.9 627.7 L2169.9 628.2 L2172.9 628.8 L2175.9 629.3 L2178.9 629.9 L2182 630.5 L2185 631.1 L2188 631.7 L2191 632.4 L2194 633 L2197.1 633.6 L2200.1 634.3 L2203.1 635 L2206.1 635.6 L2209.1 636.3 L2212.2 637 L2215.2 637.7 L2218.2 638.5 L2221.2 639.2 L2224.2 639.9 L2227.3 640.6 L2230.3 641.4 L2233.3 642.1 L2236.3 642.9 L2239.3 643.7 L2242.4 644.4 L2245.4 645.2 L2248.4 646 L2251.4 646.8 L2254.4 647.6 L2257.5 648.4 L2260.5 649.2 L2263.5 650 L2266.5 650.9 L2269.6 651.7 L2272.6 652.5 L2275.6 653.3 L2278.6 654.2 L2281.6 655 L2284.7 655.9 L2287.7 656.7 L2290.7 657.5 L2293.7 658.4 L2296.7 659.2 L2299.8 660.1 L2302.8 661 L2305.8 661.8 L2308.8 662.7 L2311.8 663.5 L2314.9 664.4 L2317.9 665.2 L2320.9 666.1 L2323.9 667 L2326.9 667.8 L2330 668.7 L2333 669.5 L2336 670.4" stroke="#C00000"/>
</g>
<g fill="none" stroke-linecap="butt" stroke-linejoin="round">
<g stroke="#fff" stroke-opacity="0.7" stroke-width="9">
<path d="M418 178 L418.6 181 L419.2 184 L419.8 187.1 L420.4 190.1 L421 193.1 L421.6 196.1 L422.2 199.1 L422.8 202.1 L423.3 205.2 L423.9 208.2 L424.5 211.2 L425 214.2 L425.6 217.2 L426.1 220.2 L426.7 223.3 L427.2 226.3 L427.8 229.3 L428.3 232.3 L428.9 235.3 L429.4 238.4 L429.9 241.4 L430.5 244.4 L431 247.4 L431.5 250.4 L432.1 253.4 L432.6 256.5 L433.1 259.5 L433.7 262.5 L434.2 265.5 L434.7 268.5 L435.2 271.5 L435.7 274.6 L436.3 277.6 L436.8 280.6 L437.3 283.6 L437.8 286.6 L438.3 289.7 L438.8 292.7 L439.3 295.7 L439.9 298.7 L440.4 301.7 L440.9 304.7 L441.4 307.8 L441.9 310.8 L442.4 313.8 L442.9 316.8 L443.5 319.8 L444 322.8 L444.5 325.9 L445 328.9 L445.5 331.9 L446 334.9 L446.6 337.9 L447.1 340.9 L447.6 344 L448.1 347 L448.6 350 L449.2 353 L449.7 356 L450.2 359.1 L450.8 362.1 L451.3 365.1 L451.8 368.1 L452.4 371.1 L452.9 374.1 L453.4 377.2 L454 380.2 L454.5 383.2 L455.1 386.2 L455.6 389.2 L456.2 392.2 L456.7 395.3 L457.3 398.3 L457.9 401.3 L458.4 404.3 L459 407.3 L459.6 410.4 L460.2 413.4 L460.7 416.4 L461.3 419.4 L461.9 422.4 L462.5 425.4 L463.1 428.5 L463.7 431.5 L464.3 434.5 L464.9 437.5 L465.5 440.5 L466.2 443.5 L466.8 446.6 L467.4 449.6 L468 452.6 L468.7 455.6 L469.3 458.6 L470 461.7 L470.6 464.7 L471.3 467.7 L472 470.7 L472.6 473.7 L473.3 476.7 L474 479.8 L474.7 482.8 L475.4 485.8 L476.1 488.8 L476.8 491.8 L477.5 494.8 L478.2 497.9 L478.9 500.9 L479.7 503.9 L480.4 506.9 L481.2 509.9 L481.9 513 L482.7 516 L483.4 519 L484.2 522 L485 525 L485.8 528 L486.6 531.1 L487.4 534.1 L488.2 537.1 L489 540.1 L489.8 543.1 L490.7 546.1 L491.5 549.2 L492.3 552.2 L493.2 555.2 L494.1 558.2 L494.9 561.2 L495.8 564.3 L496.7 567.3 L497.6 570.3 L498.5 573.3 L499.4 576.3 L500.3 579.3 L501.2 582.4 L502.1 585.4 L503.1 588.4 L504 591.4 L505 594.4 L505.9 597.4 L506.9 600.5 L507.9 603.5 L508.8 606.5 L509.8 609.5 L510.8 612.5 L511.8 615.6 L512.8 618.6 L513.9 621.6 L514.9 624.6 L515.9 627.6 L517 630.6 L518 633.7 L519.1 636.7 L520.2 639.7 L521.3 642.7 L522.3 645.7 L523.4 648.7 L524.6 651.8 L525.7 654.8 L526.8 657.8 L527.9 660.8 L529.1 663.8 L530.2 666.8 L531.4 669.9 L532.5 672.9 L533.7 675.9 L534.9 678.9 L536.1 681.9 L537.3 685 L538.5 688 L539.7 691 L541 694 L542.2 697 L543.5 700 L544.7 703.1 L546 706.1 L547.3 709.1 L548.6 712.1 L549.9 715.1 L551.2 718.1 L552.5 721.2 L553.8 724.2 L555.1 727.2 L556.5 730.2 L557.8 733.2 L559.2 736.3 L560.6 739.3 L562 742.3 L563.3 745.3 L564.8 748.3 L566.2 751.3 L567.6 754.4 L569 757.4 L570.5 760.4 L571.9 763.4 L573.4 766.4 L574.9 769.4 L576.3 772.5 L577.8 775.5 L579.3 778.5"/>
<path d="M579.3 778.5 L546.6 973.0"/>
<path d="M453.4 1527.0 L439.8 1608"/>
<path d="M1485 1003.0 V1608"/>
<path d="M1991.5 1361.0 L1993.7 1608"/>
<path d="M2123.3 1358.0 L2125.7 1608"/>
</g>
<g stroke="#0070C0" stroke-width="9">
<path d="M418 178 L418.6 181 L419.2 184 L419.8 187.1 L420.4 190.1 L421 193.1 L421.6 196.1 L422.2 199.1 L422.8 202.1 L423.3 205.2 L423.9 208.2 L424.5 211.2 L425 214.2 L425.6 217.2 L426.1 220.2 L426.7 223.3 L427.2 226.3 L427.8 229.3 L428.3 232.3 L428.9 235.3 L429.4 238.4 L429.9 241.4 L430.5 244.4 L431 247.4 L431.5 250.4 L432.1 253.4 L432.6 256.5 L433.1 259.5 L433.7 262.5 L434.2 265.5 L434.7 268.5 L435.2 271.5 L435.7 274.6 L436.3 277.6 L436.8 280.6 L437.3 283.6 L437.8 286.6 L438.3 289.7 L438.8 292.7 L439.3 295.7 L439.9 298.7 L440.4 301.7 L440.9 304.7 L441.4 307.8 L441.9 310.8 L442.4 313.8 L442.9 316.8 L443.5 319.8 L444 322.8 L444.5 325.9 L445 328.9 L445.5 331.9 L446 334.9 L446.6 337.9 L447.1 340.9 L447.6 344 L448.1 347 L448.6 350 L449.2 353 L449.7 356 L450.2 359.1 L450.8 362.1 L451.3 365.1 L451.8 368.1 L452.4 371.1 L452.9 374.1 L453.4 377.2 L454 380.2 L454.5 383.2 L455.1 386.2 L455.6 389.2 L456.2 392.2 L456.7 395.3 L457.3 398.3 L457.9 401.3 L458.4 404.3 L459 407.3 L459.6 410.4 L460.2 413.4 L460.7 416.4 L461.3 419.4 L461.9 422.4 L462.5 425.4 L463.1 428.5 L463.7 431.5 L464.3 434.5 L464.9 437.5 L465.5 440.5 L466.2 443.5 L466.8 446.6 L467.4 449.6 L468 452.6 L468.7 455.6 L469.3 458.6 L470 461.7 L470.6 464.7 L471.3 467.7 L472 470.7 L472.6 473.7 L473.3 476.7 L474 479.8 L474.7 482.8 L475.4 485.8 L476.1 488.8 L476.8 491.8 L477.5 494.8 L478.2 497.9 L478.9 500.9 L479.7 503.9 L480.4 506.9 L481.2 509.9 L481.9 513 L482.7 516 L483.4 519 L484.2 522 L485 525 L485.8 528 L486.6 531.1 L487.4 534.1 L488.2 537.1 L489 540.1 L489.8 543.1 L490.7 546.1 L491.5 549.2 L492.3 552.2 L493.2 555.2 L494.1 558.2 L494.9 561.2 L495.8 564.3 L496.7 567.3 L497.6 570.3 L498.5 573.3 L499.4 576.3 L500.3 579.3 L501.2 582.4 L502.1 585.4 L503.1 588.4 L504 591.4 L505 594.4 L505.9 597.4 L506.9 600.5 L507.9 603.5 L508.8 606.5 L509.8 609.5 L510.8 612.5 L511.8 615.6 L512.8 618.6 L513.9 621.6 L514.9 624.6 L515.9 627.6 L517 630.6 L518 633.7 L519.1 636.7 L520.2 639.7 L521.3 642.7 L522.3 645.7 L523.4 648.7 L524.6 651.8 L525.7 654.8 L526.8 657.8 L527.9 660.8 L529.1 663.8 L530.2 666.8 L531.4 669.9 L532.5 672.9 L533.7 675.9 L534.9 678.9 L536.1 681.9 L537.3 685 L538.5 688 L539.7 691 L541 694 L542.2 697 L543.5 700 L544.7 703.1 L546 706.1 L547.3 709.1 L548.6 712.1 L549.9 715.1 L551.2 718.1 L552.5 721.2 L553.8 724.2 L555.1 727.2 L556.5 730.2 L557.8 733.2 L559.2 736.3 L560.6 739.3 L562 742.3 L563.3 745.3 L564.8 748.3 L566.2 751.3 L567.6 754.4 L569 757.4 L570.5 760.4 L571.9 763.4 L573.4 766.4 L574.9 769.4 L576.3 772.5 L577.8 775.5 L579.3 778.5" stroke-dasharray="28.5 10" stroke-dashoffset="-2"/>
<path d="M579.3 778.5 L546.6 973.0" stroke-dasharray="28.5 10" stroke-dashoffset="-3.5"/>
<path d="M546.6 973.0 L453.4 1527.0"/>
<path d="M453.4 1527.0 L439.8 1608" stroke-dasharray="28.5 10" stroke-dashoffset="28.5"/>
<path d="M1485 776 V1003.0"/>
<path d="M1485 1003.0 V1608" stroke-dasharray="28.5 10" stroke-dashoffset="28.5"/>
<path d="M1991.5 1361.0 L1991 1300 L1986 820 L1986 817.7 L1986 815.4 L1986.1 813.1 L1986.1 810.8 L1986.1 808.5 L1986.1 806.2 L1986.1 803.9 L1986.1 801.6 L1986.1 799.3 L1986.1 797 L1986.1 794.7 L1986.1 792.4 L1986 790.1 L1986 787.8 L1986 785.5 L1986 783.2 L1986 780.9 L1986 778.7 L1985.9 776.4 L1985.9 774.1 L1985.9 771.8 L1985.9 769.5 L1985.9 767.2 L1985.9 764.9 L1985.8 762.6 L1985.8 760.4 L1985.8 758.1 L1985.8 755.8 L1985.8 753.5 L1985.8 751.2 L1985.8 748.9 L1985.8 746.6 L1985.8 744.3 L1985.8 742 L1985.8 739.7 L1985.8 737.5 L1985.9 735.2 L1985.9 732.9 L1985.9 730.6 L1986 728.3 L1986 726 L1986.1 723.7 L1986.1 721.4 L1986.2 719.1 L1986.2 716.8 L1986.3 714.5 L1986.4 712.1 L1986.5 709.8 L1986.6 707.5 L1986.7 705.2 L1986.9 702.9 L1987 700.6 L1987.2 698.3 L1987.4 696 L1987.6 693.7 L1987.9 691.4 L1988.1 689.2 L1988.5 686.9 L1988.8 684.6 L1989.2 682.4 L1989.6 680.1 L1990.1 677.9 L1990.6 675.7 L1991.2 673.5 L1991.8 671.3 L1992.5 669.2 L1993.2 667 L1994 664.9 L1994.8 662.7 L1995.7 660.6 L1996.6 658.6 L1997.6 656.5 L1998.7 654.5 L1999.8 652.5 L2000.9 650.5 L2002.1 648.5 L2003.4 646.6 L2004.7 644.7 L2006.1 642.8 L2007.5 640.9 L2009 639.1 L2010.5 637.3 L2012 635.6 L2013.6 633.8 L2015.3 632.2 L2017 630.5 L2018.7 628.9 L2020.5 627.4 L2022.4 625.9 L2024.3 624.6 L2026.2 623.4 L2028.2 622.3 L2030.2 621.4 L2032.2 620.6 L2034.3 620 L2036.4 619.6 L2038.5 619.4 L2040.7 619.5 L2042.9 619.7 L2045.1 620.2 L2047.4 620.9 L2049.6 621.7 L2051.8 622.6 L2054 623.7 L2056.2 624.8 L2058.3 625.9 L2060.3 627.2 L2062.3 628.4 L2064.3 629.7 L2066.2 631.1 L2068 632.5 L2069.7 633.9 L2071.5 635.4 L2073.1 636.9 L2074.8 638.5 L2076.4 640.1 L2077.9 641.7 L2079.5 643.3 L2081 645 L2082.5 646.7 L2083.9 648.5 L2085.4 650.3 L2086.8 652.1 L2088.2 653.9 L2089.5 655.8 L2090.8 657.6 L2092.1 659.5 L2093.4 661.5 L2094.6 663.4 L2095.8 665.4 L2097 667.4 L2098.1 669.4 L2099.3 671.4 L2100.3 673.5 L2101.4 675.5 L2102.4 677.6 L2103.4 679.7 L2104.3 681.8 L2105.2 684 L2106.1 686.1 L2106.9 688.2 L2107.7 690.4 L2108.5 692.6 L2109.3 694.7 L2109.9 696.9 L2110.6 699.1 L2111.2 701.3 L2111.8 703.5 L2112.4 705.7 L2112.9 708 L2113.4 710.2 L2113.8 712.4 L2114.3 714.7 L2114.7 716.9 L2115 719.2 L2115.4 721.4 L2115.7 723.7 L2116 725.9 L2116.3 728.2 L2116.5 730.5 L2116.7 732.7 L2116.9 735 L2117.1 737.3 L2117.3 739.6 L2117.5 741.9 L2117.6 744.2 L2117.7 746.5 L2117.8 748.8 L2117.9 751.1 L2118 753.4 L2118.1 755.7 L2118.1 758 L2118.2 760.3 L2118.2 762.6 L2118.2 764.9 L2118.3 767.2 L2118.3 769.5 L2118.3 771.8 L2118.3 774.1 L2118.3 776.4 L2118.4 778.8 L2118.4 781.1 L2118.4 783.4 L2118.4 785.7 L2118.4 788 L2118.5 790.3 L2118.5 792.6 L2118.5 794.9 L2118.6 797.2 L2118.6 799.5 L2118.7 801.8 L2118.8 804 L2118.8 806.3 L2118.9 808.6 L2119.1 810.9 L2119.2 813.2 L2119.3 815.4 L2119.5 817.7 L2119.7 819.9 L2122.7 1300 L2123.3 1358.0"/>
<path d="M1991.5 1361.0 L1993.7 1608" stroke-dasharray="28.5 10" stroke-dashoffset="28.5"/>
<path d="M2123.3 1358.0 L2125.7 1608" stroke-dasharray="28.5 10" stroke-dashoffset="28.5"/>
</g>
</g>
<g stroke="#000" stroke-opacity="0.25" stroke-width="4.3">
<path d="M1058.8 61 V1606"/>
<path d="M1399.8 61 V1606"/>
<path d="M1442.3 61 V1606"/>
<path d="M1483.8 61 V1606"/>
</g>
<g stroke="#000" stroke-width="6" fill="none">
<path d="M418 64 V1628"/>
<path d="M397 1608 H2336"/>
</g>
<g stroke="#000" stroke-width="5.5">
<path d="M403 1558.2 H416"/>
<path d="M403 1508.4 H416"/>
<path d="M403 1458.6 H416"/>
<path d="M397 1408.9 H416"/>
<path d="M403 1359.1 H416"/>
<path d="M403 1309.3 H416"/>
<path d="M403 1259.5 H416"/>
<path d="M397 1209.7 H416"/>
<path d="M403 1159.9 H416"/>
<path d="M403 1110.1 H416"/>
<path d="M403 1060.4 H416"/>
<path d="M397 1010.6 H416"/>
<path d="M403 960.8 H416"/>
<path d="M403 911 H416"/>
<path d="M403 861.2 H416"/>
<path d="M397 811.4 H416"/>
<path d="M403 761.6 H416"/>
<path d="M403 711.9 H416"/>
<path d="M403 662.1 H416"/>
<path d="M397 612.3 H416"/>
<path d="M403 562.5 H416"/>
<path d="M403 512.7 H416"/>
<path d="M403 462.9 H416"/>
<path d="M397 413.1 H416"/>
<path d="M403 363.4 H416"/>
<path d="M403 313.6 H416"/>
<path d="M403 263.8 H416"/>
<path d="M397 214 H416"/>
<path d="M403 164.2 H416"/>
<path d="M403 114.4 H416"/>
<path d="M403 64.6 H416"/>
<path d="M631 1610 V1623.5"/>
<path d="M844 1610 V1627.5"/>
<path d="M1057 1610 V1623.5"/>
<path d="M1270 1610 V1627.5"/>
<path d="M1483 1610 V1623.5"/>
<path d="M1696 1610 V1627.5"/>
<path d="M1909 1610 V1623.5"/>
<path d="M2122 1610 V1627.5"/>
<path d="M2335 1610 V1623.5"/>
</g>
<g stroke="#0070C0" stroke-width="9">
<path d="M1993.6 1603 V1614"/>
<path d="M2125.6 1599 V1610"/>
<path d="M1485 1598 V1610"/>
</g>
<g font-family="Liberation Sans, Arial, Helvetica, sans-serif" font-size="68" fill="#000" stroke="#fff" stroke-width="1.4">
<g text-anchor="end">
<text x="358" y="1628.7">1200</text>
<text x="358" y="1429.6">1400</text>
<text x="358" y="1230.4">1600</text>
<text x="358" y="1031.3">1800</text>
<text x="358" y="832.1">2000</text>
<text x="358" y="633">2200</text>
<text x="358" y="433.8">2400</text>
<text x="358" y="234.7">2600</text>
</g>
<g text-anchor="middle">
<text x="417.5" y="1710.5">0</text>
<text x="843.5" y="1710.5">10</text>
<text x="1269.5" y="1710.5">20</text>
<text x="1695.5" y="1710.5">30</text>
<text x="2121.5" y="1710.5">40</text>
</g>
</g>
<text font-family="Liberation Sans, Arial, Helvetica, sans-serif" font-size="86" x="893.7" y="1810" stroke="#fff" stroke-width="1.8" fill="#000">Mole fraction of Si (at. %)</text>
<text font-family="Liberation Sans, Arial, Helvetica, sans-serif" font-size="86" transform="translate(148.4 1164.2) rotate(-90)" stroke="#fff" stroke-width="1.8" fill="#000">Temperature (°C)</text>
<g font-family="Liberation Sans, Arial, Helvetica, sans-serif" fill="#000">
<text x="1231.4" y="251.5" font-size="100" stroke="#fff" stroke-width="1.6">L</text>
<text x="610.3" y="923" font-size="78" stroke="#DCE2DB" stroke-width="1.5">Mo</text>
<text x="735.9" y="518" font-size="60.5" stroke="#EDD9D9" stroke-width="1">Mo-15Si</text>
<text x="1127.2" y="449.5" font-size="60.5" stroke="#fff" stroke-width="1">Mo-23Si</text>
<text x="1520.2" y="567" font-size="60.5" stroke="#fff" stroke-width="1">Mo-24Si</text>
<text x="1557.2" y="654.5" font-size="60.5" stroke="#fff" stroke-width="1">Mo-25Si</text>
<text x="1586.8" y="1081" font-size="78" stroke="#DCE2DB" stroke-width="1.5">Mo<tspan font-size="50" dy="15.5">3</tspan><tspan dy="-15.5">Si</tspan></text>
<text transform="translate(2080 1256.2) rotate(-90)" font-size="78" stroke="#D9E0EE" stroke-width="1.5">Mo<tspan font-size="50" dy="15.5">5</tspan><tspan dy="-15.5">Si</tspan><tspan font-size="50" dy="15.5">3</tspan></text>
<text x="2264.3" y="1769.5" font-size="76" stroke="#fff" stroke-width="1.5">Si</text>
</g>
<path d="M976.9 506.3 L1036 506.3" stroke="#333" stroke-width="3"/><path d="M1058 506.3 L1036 517.3 L1036 495.3 Z" fill="#000"/>
<path d="M1367 436 L1376.6 436" stroke="#333" stroke-width="3"/><path d="M1398.6 436 L1376.6 447 L1376.6 425 Z" fill="#000"/>
<path d="M1518 551 L1471.9 551" stroke="#333" stroke-width="3"/><path d="M1447.9 551 L1471.9 539.5 L1471.9 562.5 Z" fill="#000"/>
<path d="M1555 640.7 L1508 640.7" stroke="#333" stroke-width="3"/><path d="M1484 640.7 L1508 629.2 L1508 652.2 Z" fill="#000"/>
<path d="M591 899 L499 899" stroke="#333" stroke-width="3"/><path d="M476 899 L499 887 L499 911 Z" fill="#000"/>
<path d="M1573.2 1069.4 L1511.8 1102.7" stroke="#333" stroke-width="3"/><path d="M1490.7 1114.2 L1506.5 1093.1 L1517 1112.4 Z" fill="#000"/>
<path d="M2128.9 1746.2 L2219.6 1746.2" stroke="#333" stroke-width="3"/><path d="M2242.6 1746.2 L2219.6 1757.7 L2219.6 1734.7 Z" fill="#000"/>
<rect x="1850" y="66" width="483.5" height="328.6" fill="#DCE2DB"/>
<path d="M1850 66 L2114 66 L2127 160.6 L1850 160.6 Z" fill="#EDD9D9"/>
<path d="M2114 66 L2127 160.6 C2130 163 2138.4 169.8 2145 174.8 C2151.6 179.8 2160.1 185.6 2166.6 190.7 C2173.1 195.8 2178.5 200 2184 205.1 C2189.5 210.2 2194.5 215 2199.8 221 C2205.1 227 2209.8 232.4 2215.7 241.2 C2221.6 250 2231.9 268.5 2235.2 274 L2299.4 66 Z" fill="#fff"/>
<path d="M2010.3 165 V397" stroke="#0070C0" stroke-width="8.5"/>
<g stroke="#548235" stroke-width="9.5" fill="none">
<path d="M1850 160.6 H2127"/>
<path d="M2010 279.8 H2334"/>
</g>
<path d="M2113.4 65 L2127 160.6 C2130 163 2138.4 169.8 2145 174.8 C2151.6 179.8 2160.1 185.6 2166.6 190.7 C2173.1 195.8 2178.5 200 2184 205.1 C2189.5 210.2 2194.5 215 2199.8 221 C2205.1 227 2209.8 232.4 2215.7 241.2 C2221.6 250 2231.9 268.5 2235.2 274 L2300 65" fill="none" stroke="#C00000" stroke-width="9" stroke-linejoin="round"/>
<g stroke="#000" stroke-width="5.5" fill="none">
<path d="M1850 66 V412"/>
<path d="M1832 394.6 H2334.5"/>
</g>
<g stroke="#000" stroke-width="5">
<path d="M1838 336.2 H1848"/>
<path d="M1832 277.7 H1848"/>
<path d="M1838 219.3 H1848"/>
<path d="M1832 160.8 H1848"/>
<path d="M1838 102.4 H1848"/>
<path d="M1930.5 396 V408.6"/>
<path d="M2011.1 396 V412"/>
<path d="M2091.7 396 V408.6"/>
<path d="M2172.2 396 V412"/>
<path d="M2252.8 396 V408.6"/>
<path d="M2333.3 396 V412"/>
</g>
<g font-family="Liberation Sans, Arial, Helvetica, sans-serif" font-size="60" fill="#000" stroke="#fff" stroke-width="1.2">
<g text-anchor="end">
<text x="1797.4" y="413.6">2015</text>
<text x="1797.4" y="296.7">2020</text>
<text x="1797.4" y="179.8">2025</text>
</g>
<g text-anchor="middle">
<text x="1850" y="483">24</text>
<text x="2011.1" y="483">25</text>
<text x="2172.2" y="483">26</text>
<text x="2333.3" y="483">27</text>
</g>
</g>
<text font-family="Liberation Sans, Arial, Helvetica, sans-serif" x="2185.7" y="147" font-size="86" stroke="#fff" stroke-width="1.5" fill="#000">L</text>
<text font-family="Liberation Sans, Arial, Helvetica, sans-serif" x="2075.4" y="363.5" font-size="68" stroke="#DCE2DB" stroke-width="1.3" fill="#000">Mo<tspan font-size="44" dy="13">3</tspan><tspan dy="-13">Si</tspan></text>
<path d="M2061.6 340.5 L2037.3 340.5" stroke="#333" stroke-width="3"/><path d="M2016.3 340.5 L2037.3 330.5 L2037.3 350.5 Z" fill="#000"/>
<path d="M2010.3 390 V397.5" stroke="#0070C0" stroke-width="8.5"/>
</svg>
</body></html>
